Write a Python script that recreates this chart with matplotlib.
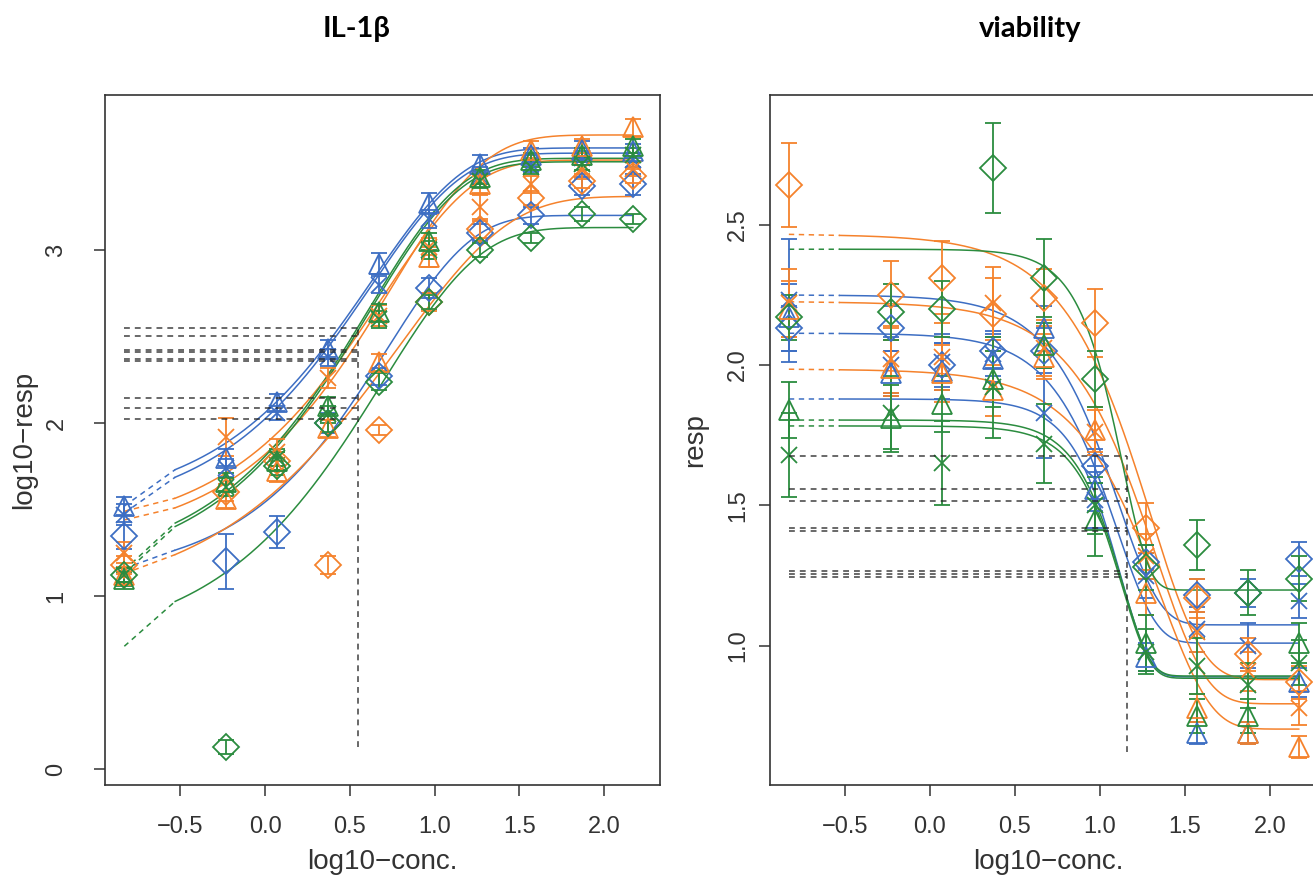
import numpy as np
import matplotlib
matplotlib.use("Agg")
import matplotlib.pyplot as plt

# doses on log10 scale (first one is the "zero" dose drawn at the left end)
log_conc = [-0.83, -0.23, 0.07, 0.37, 0.67, 0.97, 1.27, 1.57, 1.87, 2.17]
break_conc = -0.53  # curves go solid from here on

BLUE = '#3d6ec3'
ORANGE = '#f5822c'
GREEN = '#2b8c3f'
series_color = [BLUE, BLUE, BLUE, ORANGE, ORANGE, ORANGE, GREEN, GREEN, GREEN]
series_marker = ['^', 'x', 'D', '^', 'x', 'D', '^', 'x', 'D']

# ---- IL-1beta panel (log10 response) ----
il_blue_tri = [1.52, 1.80, 2.12, 2.43, 2.92, 3.27, 3.50, 3.55, 3.58, 3.57]
il_blue_x = [1.47, 1.74, 2.06, 2.38, 2.80, 3.18, 3.43, 3.50, 3.53, 3.52]
il_blue_dia = [1.35, 1.20, 1.37, 2.00, 2.27, 2.78, 3.10, 3.20, 3.37, 3.38]
il_orange_tri = [1.12, 1.56, 1.72, 1.97, 2.35, 2.96, 3.38, 3.58, 3.60, 3.71]
il_orange_x = [1.25, 1.92, 1.83, 2.26, 2.62, 3.02, 3.25, 3.38, 3.46, 3.47]
il_orange_dia = [1.18, 1.60, 1.78, 1.18, 1.96, 2.70, 3.12, 3.30, 3.40, 3.43]
il_green_tri = [1.10, 1.66, 1.78, 2.10, 2.64, 3.05, 3.42, 3.52, 3.55, 3.60]
il_green_x = [1.12, 1.63, 1.80, 2.05, 2.60, 3.00, 3.40, 3.48, 3.50, 3.55]
il_green_dia = [1.12, 0.13, 1.75, 2.00, 2.24, 2.70, 3.00, 3.07, 3.21, 3.18]

il_blue_tri_err = [0.05, 0.05, 0.05, 0.05, 0.06, 0.06, 0.05, 0.04, 0.05, 0.04]
il_blue_x_err = [0.06, 0.05, 0.04, 0.05, 0.05, 0.05, 0.05, 0.05, 0.04, 0.04]
il_blue_dia_err = [0.08, 0.16, 0.09, 0.06, 0.05, 0.06, 0.05, 0.05, 0.05, 0.06]
il_orange_tri_err = [0.05, 0.05, 0.06, 0.05, 0.05, 0.06, 0.05, 0.05, 0.04, 0.05]
il_orange_x_err = [0.06, 0.11, 0.08, 0.06, 0.06, 0.05, 0.07, 0.05, 0.05, 0.04]
il_orange_dia_err = [0.05, 0.05, 0.05, 0.05, 0.03, 0.05, 0.05, 0.04, 0.04, 0.04]
il_green_tri_err = [0.04, 0.05, 0.05, 0.05, 0.05, 0.05, 0.04, 0.04, 0.04, 0.04]
il_green_x_err = [0.04, 0.05, 0.05, 0.05, 0.05, 0.05, 0.04, 0.04, 0.04, 0.04]
il_green_dia_err = [0.04, 0.04, 0.05, 0.05, 0.05, 0.04, 0.04, 0.03, 0.04, 0.03]

# fitted curves (Weibull type, increasing): lower, upper, location, slope
il_lower = [1.50, 1.45, 1.10, 1.30, 1.35, 0.95, 1.15, 1.13, 0.70]
il_upper = [3.59, 3.56, 3.20, 3.665, 3.52, 3.31, 3.53, 3.51, 3.13]
il_loc = [0.63, 0.62, 0.72, 0.754, 0.69, 0.79, 0.61, 0.61, 0.694]
il_slope = [1.85, 1.85, 2.00, 1.85, 1.85, 1.54, 1.85, 1.85, 1.75]
il_start = [1.52, 1.48, 1.16, 1.44, 1.49, 1.13, 1.15, 1.13, 0.71]

il_ref_levels = [2.551, 2.505, 2.42, 2.41, 2.37, 2.36, 2.146, 2.088, 2.021]
il_ref_conc = 0.55
il_ref_bottom = 0.13

# ---- viability panel ----
via_blue_tri = [2.17, 1.97, 1.98, 2.02, 2.13, 1.56, 0.96, 0.69, 0.69, 0.87]
via_blue_x = [2.23, 2.00, 2.01, 2.04, 1.83, 1.52, 1.25, 1.06, 1.00, 1.16]
via_blue_dia = [2.13, 2.13, 2.00, 2.05, 2.05, 1.64, 1.30, 1.18, 1.19, 1.31]
via_orange_tri = [2.20, 1.99, 1.97, 1.91, 2.03, 1.77, 1.19, 0.78, 0.69, 0.64]
via_orange_x = [2.22, 2.02, 2.03, 2.22, 2.06, 1.76, 1.32, 1.05, 0.91, 0.78]
via_orange_dia = [2.64, 2.25, 2.31, 2.18, 2.24, 2.15, 1.42, 1.17, 0.97, 0.87]
via_green_tri = [1.84, 1.81, 1.86, 1.95, 2.07, 1.45, 1.01, 0.75, 0.75, 1.01]
via_green_x = [1.68, 1.83, 1.65, 1.92, 1.72, 1.50, 0.98, 0.93, 0.86, 0.94]
via_green_dia = [2.17, 2.19, 2.20, 2.70, 2.31, 1.95, 1.28, 1.36, 1.19, 1.24]

via_blue_tri_err = [0.12, 0.08, 0.10, 0.08, 0.08, 0.08, 0.05, 0.04, 0.04, 0.05]
via_blue_x_err = [0.22, 0.10, 0.10, 0.08, 0.16, 0.10, 0.08, 0.08, 0.08, 0.06]
via_blue_dia_err = [0.08, 0.08, 0.08, 0.06, 0.08, 0.06, 0.06, 0.06, 0.05, 0.06]
via_orange_tri_err = [0.10, 0.10, 0.10, 0.09, 0.08, 0.08, 0.08, 0.05, 0.04, 0.04]
via_orange_x_err = [0.12, 0.12, 0.12, 0.13, 0.10, 0.08, 0.08, 0.07, 0.07, 0.06]
via_orange_dia_err = [0.15, 0.12, 0.13, 0.13, 0.10, 0.12, 0.09, 0.07, 0.06, 0.06]
via_green_tri_err = [0.10, 0.12, 0.10, 0.10, 0.08, 0.13, 0.10, 0.06, 0.06, 0.07]
via_green_x_err = [0.15, 0.13, 0.15, 0.18, 0.14, 0.10, 0.08, 0.10, 0.08, 0.08]
via_green_dia_err = [0.08, 0.10, 0.10, 0.16, 0.14, 0.10, 0.08, 0.09, 0.08, 0.08]

# fitted curves (Weibull type, decreasing): lower, upper, location, slope
via_lower = [0.89, 1.010, 1.075, 0.704, 0.794, 0.88, 0.893, 0.885, 1.199]
via_upper = [1.879, 2.113, 2.249, 1.985, 2.225, 2.465, 1.804, 1.783, 2.412]
via_loc = [1.12, 1.10, 1.11, 1.36, 1.33, 1.30, 1.13, 1.13, 1.134]
via_slope = [5.9, 4.35, 4.1, 3.4, 3.4, 3.3, 6.1, 6.1, 6.4]
via_start = via_upper

via_ref_levels = [1.677, 1.558, 1.515, 1.420, 1.410, 1.265, 1.255, 1.245]
via_ref_conc = 1.16
via_ref_bottom = 0.623

TXT = '#333333'
FONT = 'Liberation Sans'


def weibull_up(t, c, d, e, b):
    return c + (d - c) * (1 - np.exp(-np.exp(b * (t - e))))


def weibull_down(t, c, d, e, b):
    return c + (d - c) * np.exp(-np.exp(b * (t - e)))


def draw_panel(ax, values, errors, lower, upper, loc, slope, start, model,
               ref_levels, ref_conc, ref_bottom):
    t = np.linspace(break_conc, log_conc[-1], 200)
    for i in range(9):
        col = series_color[i]
        y = model(t, lower[i], upper[i], loc[i], slope[i])
        ax.plot(t, y, color=col, lw=1.1, zorder=2)
        ax.plot([log_conc[0], break_conc], [start[i], y[0]], color=col,
                lw=1.1, ls=(0, (3.5, 3)), zorder=2)
    for i in range(9):
        col = series_color[i]
        mk = series_marker[i]
        ms = {'^': 15, 'x': 12, 'D': 13}[mk]
        ax.errorbar(log_conc, values[i], yerr=errors[i], fmt=mk, ms=ms,
                    mfc='none', mec=col, mew=1.3, ecolor=col, elinewidth=1.3,
                    capsize=6, capthick=1.3, zorder=3)
    for lev in ref_levels:
        ax.plot([log_conc[0], ref_conc], [lev, lev], color='#222222', lw=1.2,
                ls=(0, (3.5, 3)), alpha=0.8, zorder=4)
    ax.plot([ref_conc, ref_conc], [ref_bottom, max(ref_levels)], color='#222222',
            lw=1.2, ls=(0, (3.5, 3)), alpha=0.8, zorder=4)

    ax.set_xticks([-0.5, 0.0, 0.5, 1.0, 1.5, 2.0])
    ax.set_xticklabels(['\u22120.5', '0.0', '0.5', '1.0', '1.5', '2.0'])
    ax.tick_params(axis='both', direction='out', length=8, width=1.1,
                   colors=TXT, labelsize=17)
    ax.tick_params(axis='x', pad=14)
    for s in ax.spines.values():
        s.set_color(TXT)
        s.set_linewidth(1.2)
    ax.set_xlabel('log10\u2212conc.', fontsize=20, color=TXT, labelpad=8,
                  family=FONT)


def rotate_yticks(ax):
    for lab in ax.get_yticklabels() + ax.get_xticklabels():
        lab.set_family(FONT)
    for lab in ax.get_yticklabels():
        lab.set_rotation(90)
        lab.set_va('center')


fig = plt.figure(figsize=(13.13, 8.77), dpi=100)

ax1 = fig.add_axes([105 / 1313, 1 - 785 / 877, 555 / 1313, 690 / 877])
draw_panel(ax1,
           [il_blue_tri, il_blue_x, il_blue_dia, il_orange_tri, il_orange_x,
            il_orange_dia, il_green_tri, il_green_x, il_green_dia],
           [il_blue_tri_err, il_blue_x_err, il_blue_dia_err, il_orange_tri_err,
            il_orange_x_err, il_orange_dia_err, il_green_tri_err, il_green_x_err,
            il_green_dia_err],
           il_lower, il_upper, il_loc, il_slope, il_start, weibull_up,
           il_ref_levels, il_ref_conc, il_ref_bottom)
ax1.set_xlim(-0.944, 2.330)
ax1.set_ylim(-0.092, 3.896)
ax1.set_yticks([0, 1, 2, 3])
ax1.tick_params(axis='y', pad=19)
rotate_yticks(ax1)
ax1.set_ylabel('log10\u2212resp', fontsize=20, color=TXT, labelpad=6, family=FONT)

ax2 = fig.add_axes([770 / 1313, 1 - 785 / 877, 556 / 1313, 690 / 877])
draw_panel(ax2,
           [via_blue_tri, via_blue_x, via_blue_dia, via_orange_tri, via_orange_x,
            via_orange_dia, via_green_tri, via_green_x, via_green_dia],
           [via_blue_tri_err, via_blue_x_err, via_blue_dia_err, via_orange_tri_err,
            via_orange_x_err, via_orange_dia_err, via_green_tri_err, via_green_x_err,
            via_green_dia_err],
           via_lower, via_upper, via_loc, via_slope, via_start, weibull_down,
           via_ref_levels, via_ref_conc, via_ref_bottom)
ax2.set_xlim(-0.941, 2.330)
ax2.set_ylim(0.505, 2.961)
ax2.set_yticks([1.0, 1.5, 2.0, 2.5])
ax2.set_yticklabels(['1.0', '1.5', '2.0', '2.5'])
ax2.tick_params(axis='y', pad=7)
rotate_yticks(ax2)
ax2.set_ylabel('resp', fontsize=20, color=TXT, labelpad=14, family=FONT)

fig.text(357 / 1313, 1 - 29 / 877, 'IL-1\u03b2', ha='center', va='center',
         fontsize=21, fontweight='bold', family='Lato')
fig.text(1030 / 1313, 1 - 29 / 877, 'viability', ha='center', va='center',
         fontsize=21, fontweight='bold', family='Lato')

fig.savefig('out.png', dpi=100)
